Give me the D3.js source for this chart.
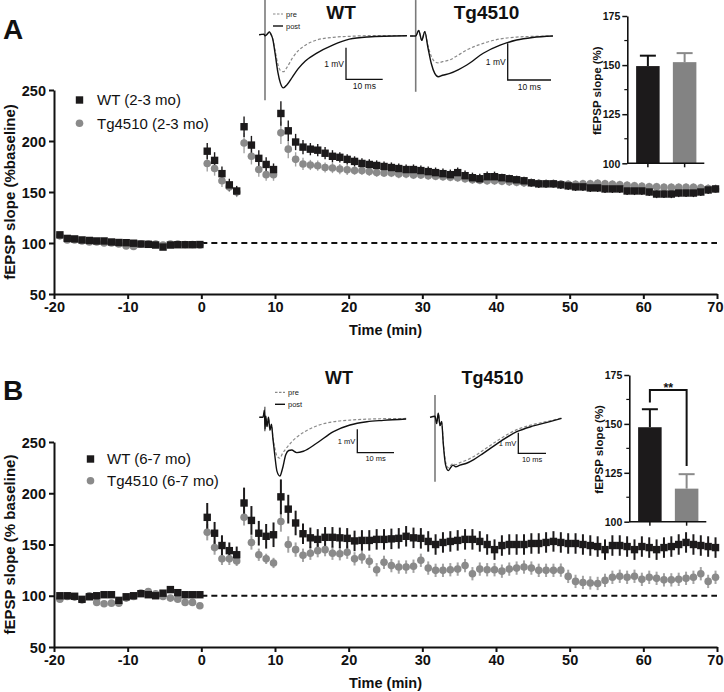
<!DOCTYPE html>
<html><head><meta charset="utf-8">
<script src="https://cdn.jsdelivr.net/npm/d3@7"></script>
<style>
body{margin:0;background:#fff}
svg{display:block}
text{font-family:"Liberation Sans",Arial,Helvetica,sans-serif}
</style>
</head><body>
<svg id="c" width="724" height="692"></svg>
<script>
// ---------------- DATA ----------------
const xTicks = [-20,-10,0,10,20,30,40,50,60,70];
const yTicks = [50,100,150,200,250];
const insetTicks = [100,125,150,175];
const insetMinor = [112.5,137.5,162.5];

const baseTimes = [-19.2,-18.2,-17.2,-16.2,-15.2,-14.2,-13.2,-12.2,-11.2,-10.2,-9.2,-8.2,-7.2,-6.2,-5.2,-4.2,-3.2,-2.2,-1.2,-0.2];
const postTimes = [0.8,1.8,2.8,3.8,4.8,5.8,6.8,7.8,8.8,9.8,10.8,11.8,12.8,13.8,14.8,15.8,16.8,17.8,18.8,19.8,
  20.8,21.8,22.8,23.8,24.8,25.8,26.8,27.8,28.8,29.8,30.8,31.8,32.8,33.8,34.8,35.8,36.8,37.8,38.8,39.8,
  40.8,41.8,42.8,43.8,44.8,45.8,46.8,47.8,48.8,49.8,50.8,51.8,52.8,53.8,54.8,55.8,56.8,57.8,58.8,59.8,
  60.8,61.8,62.8,63.8,64.8,65.8,66.8,67.8,68.8,69.8];

// Panel A (2-3 mo)
const wtA_base = [108,104.5,104,103,102.5,102,102,101,100.5,100.3,99.8,99,98.7,98,96,98,98.3,98.3,98.3,98.5];
const wtA_post = [190,181,168,157,151, 214,196,183,177,172,
  227,210,199,194,192,191,188,185,184,182,
  180,178,177,176,175,174,173,172,172,171,
  170,169,168,167,169,166,164,163,165,165,
  164,163,162,161,159,158,158,158,157,156,
  155,155,154,154,153,153,153,151,151,151,
  150,148,148,148,149,149,149,150,152,153];
const wtA_errBase = [2,1.5,1.5,1.5,1.5,1.5,1.5,1.5,1.5,1.5,1.5,1.5,1.5,1.5,2,1.5,1.5,1.5,1.5,1.5];
const wtA_errPost = [8,8,7,6,5, 10,9,8,7,6,
  12,10,8,7,6,6,6,6,5,5,
  5,5,5,5,5,5,5,5,5,5,
  5,5,5,5,5,5,5,5,5,5,
  4,4,4,4,4,4,4,4,4,4,
  4,4,4,4,4,4,4,4,4,4,
  4,4,4,4,4,4,4,4,4,4];
const tgA_base = [107,103,103,102,101,101,100,100,99,97,96.5,99,99,99,98,99,99,98.5,98.5,98];
const tgA_post = [178,173,161,155,150, 198,185,172,167,167,
  208,192,182,177.5,176.5,175.8,174,173.5,172.5,171.7,
  171,171,170,169,168.6,168.6,167.6,167.6,166.7,166.7,
  166,165.5,165,164.5,164,163,162,161.5,161,161,
  160.5,160,159.5,159,159,158.5,158,158,157.8,157.5,
  157.5,158,158,158.5,158,157.5,157,156.5,156,155.5,
  155,155,154.5,154.5,154.5,154.5,154.5,154,153.5,153];
const tgA_errBase = [2,1.5,1.5,1.5,1.5,1.5,1.5,1.5,1.5,1.5,1.5,1.5,1.5,1.5,1.5,1.5,1.5,1.5,1.5,1.5];
const tgA_errPost = [8,7,6,5,5, 10,8,7,6,6,
  11,9,7,6,5,5,5,5,5,5,
  4,4,4,4,4,4,4,4,4,4,
  4,4,4,4,4,4,4,4,4,4,
  4,4,4,4,4,4,4,4,4,4,
  4,4,4,4,4,4,4,4,4,4,
  4,4,4,4,4,4,4,4,4,4];

// Panel B (6-7 mo)
const wtB_base = [100,100,99.5,96.5,99,100,101,101,95.5,99,100,102,101,100,102.5,106,103,101,101,101];
const wtB_post = [176.5,161,149,144,140, 190.5,173.5,161,158,159.5,
  196.5,184.5,171,160.5,156.5,155,157,157,156.5,156,
  153.5,154,154,155,155,155.5,156,158,156.5,156,
  153,150,152,153,154,155,155,153,150,145,
  149,150,150,150,151,151,152,153,152,151,
  151,150,149,148,145,149,149,148,145,148,
  147,145,147,148,150,152,150,149,148,147];
const wtB_errBase = [2.5,2.5,2.5,2.5,2.5,2.5,2.5,2.5,2.5,2.5,2.5,2.5,2.5,2.5,2.5,3,2.5,2.5,2.5,2.5];
const wtB_errPost = [14,11,10,8,8, 15,14,12,12,12,
  17,14,12,10,10,10,10,10,10,10,
  10,10,10,10,10,10,10,10,10,10,
  10,10,10,10,10,10,10,10,10,10,
  10,10,10,10,10,10,10,10,10,10,
  10,10,10,10,10,10,10,10,10,10,
  10,10,10,10,10,10,10,10,10,10];
const tgB_base = [96.7,99.3,98.7,96,100,93.5,92.2,92.8,92.8,97.7,99.3,102.6,104.2,102,99.3,97.7,96.7,93.5,93.5,90.2];
const tgB_post = [162,147,136,136,134, 176.5,152,140,136,132,
  172.5,150,145,139.5,141.5,144,145,141.5,141,142.5,
  136,137.8,133.6,125.4,132.6,129.4,128,128,128.8,134.6,
  127,124.8,124.8,125.4,126,129.4,121.5,126,125.4,125.4,
  124,126,127,128,127,124.8,124.8,124.8,125,118.9,
  114,113,112.5,112,115,118,119,118,119,116,
  118,117,115.5,115.5,116,117,118,121.5,114,118];
const tgB_errBase = [2.5,2.5,2.5,2.5,2.5,2.5,2.5,2.5,2.5,2.5,2.5,2.5,2.5,2.5,2.5,2.5,2.5,2.5,2.5,2.5];
const tgB_errPost = [8,7,6,6,5, 8,7,6,5,5,
  10,8,7,6.5,6.5,6.5,6.5,6.5,6.5,6.5,
  6.5,6.5,6.5,6.5,6.5,6.5,6.5,6.5,6.5,6.5,
  6.5,6.5,6.5,6.5,6.5,6.5,6.5,6.5,6.5,6.5,
  6.5,6.5,6.5,6.5,6.5,6.5,6.5,6.5,6.5,6.5,
  6.5,6.5,6.5,6.5,6.5,6.5,6.5,6.5,6.5,6.5,
  6.5,6.5,6.5,6.5,6.5,6.5,6.5,6.5,6.5,6.5];

// Inset bar charts
const barGroups = ["WT","Tg4510"];
const barMeansA = [149.5,151.5];
const barErrA = [5.3,4.6];
const barMeansB = [148.3,116.9];
const barErrB = [9.2,7.4];
const sigB = {level:167.3, left:161, right:128.5, label:"**"};

// Example fEPSP traces (ms, mV)
const trA_WT_t    = [-1.6,-0.3,0,0.6,1.2,1.6,2.1,2.8,3.5,4.2,5.0,6.0,7.5,9.0,11,14,18.6,23,28,38.7];
const trA_WT_post = [0.03,0.05,0,0.05,0.12,0.05,-0.1,-0.6,-1.15,-1.5,-1.65,-1.55,-1.3,-1.05,-0.8,-0.56,-0.29,-0.11,-0.04,0];
const trA_WT_pre  = [0.03,0.05,0,0.05,0.12,0.05,-0.1,-0.5,-0.9,-1.1,-1.14,-1.0,-0.7,-0.48,-0.3,-0.14,-0.05,-0.02,0,0];
const trA_Tg_t    = [-1.3,-0.5,0,0.7,1.4,2.1,2.8,3.6,4.4,5.2,6.2,7.9,9.8,11.8,15.6,19.5,23.3,27,31.7];
const trA_Tg_post = [0,0,0,0.15,-0.12,0.12,-0.3,-0.75,-1.02,-1.11,-1.07,-1.02,-0.92,-0.79,-0.47,-0.25,-0.11,-0.04,0];
const trA_Tg_pre  = [0,0,0,0.15,-0.12,0.12,-0.25,-0.55,-0.7,-0.73,-0.7,-0.65,-0.52,-0.38,-0.2,-0.08,-0.03,-0.01,0];
const trB_WT_t    = [-1,0,0.4,0.55,0.75,1.1,1.5,1.9,2.3,2.7,3.2,3.8,4.6,5.3,6.2,7.0,7.8,9.2,11,14.6,19.2,23.7,28.3,32.8,39];
const trB_WT_post = [0,0,0.3,-0.5,0.05,-0.4,0.0,-0.55,-0.3,-0.9,-1.6,-2.3,-2.51,-2.2,-1.6,-1.42,-1.4,-1.51,-1.45,-1.11,-0.61,-0.33,-0.19,-0.13,-0.07];
const trB_WT_pre  = [0,0,0.3,-0.5,0.05,-0.4,0.0,-0.55,-0.3,-0.85,-1.3,-1.65,-1.75,-1.55,-1.35,-1.2,-1.05,-0.85,-0.65,-0.37,-0.19,-0.12,-0.08,-0.06,-0.05];
const trB_Tg_t    = [-1.8,0,0.6,1.2,1.8,2.4,3.0,3.8,4.8,5.6,6.5,7.5,9.0,11.4,14,17.4,23.5,29.5,35.5,41.5,45.7];
const trB_Tg_post = [0,0.05,-0.3,0.2,-0.4,-0.2,-1.3,-2.3,-2.59,-2.45,-2.32,-2.4,-2.32,-2.23,-2.05,-1.75,-1.18,-0.7,-0.42,-0.21,-0.05];
const trB_Tg_pre  = [0,0.05,-0.3,0.2,-0.4,-0.2,-1.2,-2.15,-2.45,-2.35,-2.25,-2.3,-2.2,-2.08,-1.9,-1.6,-1.05,-0.6,-0.35,-0.17,-0.03];
const stimA_WT = [1.13,-2.04];
const stimA_Tg = [0.98,-1.52];
const stimB_WT = [0.45,-0.6];
const stimB_Tg = [1.08,-3.13];

// ---------------- DRAW ----------------
const svg = d3.select("#c");
const BLACK = "#1c1a1b", GREY = "#8a8a8a", GREYERR = "#a3a3a3";
const times = baseTimes.concat(postTimes);

function styleAxis(g, fs) {
  g.select(".domain").attr("stroke","#111").attr("stroke-width",2);
  g.selectAll(".tick line").attr("stroke","#111").attr("stroke-width",2);
  g.selectAll(".tick text").attr("fill","#111").attr("font-weight","bold")
    .attr("font-size",fs).style("font-family",'"Liberation Sans",Arial,sans-serif');
}

function drawPanel(p) {
  const g = svg.append("g");
  const x = d3.scaleLinear().domain([-20,70]).range([54,717]);
  const y = d3.scaleLinear().domain([50,250]).range([p.yBot, p.yTop]);

  const ax = g.append("g").attr("transform",`translate(0,${p.yBot})`)
    .call(d3.axisBottom(x).tickValues(xTicks).tickSize(5).tickSizeOuter(0).tickPadding(3).tickFormat(d=>String(d)));
  styleAxis(ax, 14.5);
  ax.selectAll(".tick text").filter(d=>d===70).attr("text-anchor","end").attr("x",6);
  const ay = g.append("g").attr("transform",`translate(54,0)`)
    .call(d3.axisLeft(y).tickValues(yTicks).tickSize(5).tickSizeOuter(0).tickPadding(3).tickFormat(d=>String(d)));
  styleAxis(ay, 14.5);
  ay.selectAll(".tick text").attr("dy","0.36em");

  g.append("text").attr("x",385.5).attr("y",p.yBot+41).attr("text-anchor","middle")
    .attr("font-weight","bold").attr("font-size",14.5).attr("fill","#111").text("Time (min)");
  g.append("text").attr("transform",`translate(15,${(p.yBot+p.yTop)/2}) rotate(-90)`)
    .attr("text-anchor","middle").attr("font-weight","bold").attr("font-size",15).attr("fill","#111").text(p.ylabel);
  g.append("text").attr("x",3).attr("y",p.letterY).attr("font-weight","bold").attr("font-size",28)
    .attr("fill","#111").text(p.letter);

  g.append("line").attr("x1",x(0)).attr("x2",x(70)).attr("y1",y(100)).attr("y2",y(100))
    .attr("stroke","#111").attr("stroke-width",1.8).attr("stroke-dasharray","6,4");

  const tg = times.map((t,i)=>({t, v:p.tg[i], e:p.tgErr[i]}));
  const wt = times.map((t,i)=>({t, v:p.wt[i], e:p.wtErr[i]}));

  g.append("g").selectAll("line").data(tg).join("line")
    .attr("x1",d=>x(d.t)).attr("x2",d=>x(d.t)).attr("y1",d=>y(d.v-d.e)).attr("y2",d=>y(d.v+d.e))
    .attr("stroke",GREYERR).attr("stroke-width",p.ew);
  g.append("g").selectAll("line").data(wt).join("line")
    .attr("x1",d=>x(d.t)).attr("x2",d=>x(d.t)).attr("y1",d=>y(d.v-d.e)).attr("y2",d=>y(d.v+d.e))
    .attr("stroke",BLACK).attr("stroke-width",p.ew);
  g.append("g").selectAll("circle").data(tg).join("circle")
    .attr("cx",d=>x(d.t)).attr("cy",d=>y(d.v)).attr("r",3.8).attr("fill",GREY);
  const s = 7.4;
  g.append("g").selectAll("rect").data(wt).join("rect")
    .attr("x",d=>x(d.t)-s/2).attr("y",d=>y(d.v)-s/2).attr("width",s).attr("height",s).attr("fill",BLACK);

  const L = p.legend;
  g.append("rect").attr("x",L.x-s/2).attr("y",L.y1-s/2).attr("width",s).attr("height",s).attr("fill",BLACK);
  g.append("circle").attr("cx",L.x).attr("cy",L.y2).attr("r",3.8).attr("fill",GREY);
  g.append("text").attr("x",L.tx).attr("y",L.y1+5.3).attr("font-size",15).attr("fill","#111").text(L.t1);
  g.append("text").attr("x",L.tx).attr("y",L.y2+5.3).attr("font-size",15).attr("fill","#111").text(L.t2);
}

function drawInset(p) {
  const g = svg.append("g");
  const y = d3.scaleLinear().domain([100,175]).range([p.yBot,p.yTop]);
  const xb = d3.scaleBand().domain(barGroups).range([p.ax+2.2,p.ax+75.7]).paddingInner(0.36).paddingOuter(0.18);
  const colors = [BLACK,"#838383"];
  const errColors = ["#111","#8a8a8a"];
  g.selectAll("rect.bar").data(barGroups).join("rect")
    .attr("x",d=>xb(d)).attr("width",xb.bandwidth())
    .attr("y",(d,i)=>y(p.means[i])).attr("height",(d,i)=>y(100)-y(p.means[i]))
    .attr("fill",(d,i)=>colors[i]);
  barGroups.forEach((d,i)=>{
    const cx = xb(d)+xb.bandwidth()/2;
    g.append("line").attr("x1",cx).attr("x2",cx).attr("y1",y(p.means[i])).attr("y2",y(p.means[i]+p.errs[i]))
      .attr("stroke",errColors[i]).attr("stroke-width",2);
    g.append("line").attr("x1",cx-8).attr("x2",cx+8).attr("y1",y(p.means[i]+p.errs[i])).attr("y2",y(p.means[i]+p.errs[i]))
      .attr("stroke",errColors[i]).attr("stroke-width",2);
    g.append("line").attr("x1",cx).attr("x2",cx).attr("y1",y(100)).attr("y2",y(100)+4)
      .attr("stroke","#111").attr("stroke-width",1.5);
  });
  const ay = g.append("g").attr("transform",`translate(${p.ax},0)`)
    .call(d3.axisLeft(y).tickValues(insetTicks).tickSize(5).tickSizeOuter(0).tickPadding(2).tickFormat(d=>String(d)));
  styleAxis(ay, 10.5);
  ay.select(".domain").attr("stroke-width",1.6);
  ay.selectAll(".tick line").attr("stroke-width",1.5);
  ay.selectAll(".tick text").attr("dy","0.36em");
  g.selectAll("line.minor").data(insetMinor).join("line").attr("class","minor")
    .attr("x1",p.ax-3).attr("x2",p.ax).attr("y1",d=>y(d)).attr("y2",d=>y(d)).attr("stroke","#111").attr("stroke-width",1.2);
  g.append("line").attr("x1",p.ax).attr("x2",p.ax+77).attr("y1",y(100)).attr("y2",y(100))
    .attr("stroke","#111").attr("stroke-width",1.6);
  g.append("text").attr("transform",`translate(${p.ax-26},${(p.yBot+p.yTop)/2 + 1}) rotate(-90)`)
    .attr("text-anchor","middle").attr("font-weight","bold").attr("font-size",11.5).attr("fill","#111").text("fEPSP slope (%)");
  if (p.sig) {
    const c1 = xb(barGroups[0])+xb.bandwidth()/2, c2 = xb(barGroups[1])+xb.bandwidth()/2;
    g.append("path").attr("d",`M${c1},${y(p.sig.left)}V${y(p.sig.level)}H${c2}V${y(p.sig.right)}`)
      .attr("fill","none").attr("stroke","#111").attr("stroke-width",2);
    g.append("text").attr("x",(c1+c2)/2).attr("y",y(p.sig.level)+1.5).attr("text-anchor","middle")
      .attr("font-weight","bold").attr("font-size",12.5).attr("fill","#111").text(p.sig.label);
  }
}

function drawTrace(p) {
  const g = svg.append("g");
  const sx = d3.scaleLinear().domain([0,10]).range([p.x0,p.x0+p.ms10]);
  const sy = d3.scaleLinear().domain([0,-1]).range([p.y0,p.y0+p.mv1]);
  const line = d3.line().x(d=>sx(d[0])).y(d=>sy(d[1])).curve(d3.curveMonotoneX);
  if (p.stim) {
    g.append("line").attr("x1",sx(p.stimAt||0)).attr("x2",sx(p.stimAt||0)).attr("y1",sy(p.stim[0])).attr("y2",sy(p.stim[1]))
      .attr("stroke","#7a7a7a").attr("stroke-width",1.6);
  }
  g.append("path").attr("d",line(p.t.map((t,i)=>[t,p.pre[i]]))).attr("fill","none")
    .attr("stroke","#8a8a8a").attr("stroke-width",1.2).attr("stroke-dasharray","3,2");
  g.append("path").attr("d",line(p.t.map((t,i)=>[t,p.post[i]]))).attr("fill","none")
    .attr("stroke","#111").attr("stroke-width",1.4);
  const bx = p.bar[0], by = p.bar[1];
  const hLen = sx(10)-sx(0), vLen = sy(-1)-sy(0);
  g.append("path").attr("d",`M${bx},${by-vLen}V${by}H${bx+hLen}`).attr("fill","none")
    .attr("stroke","#111").attr("stroke-width",1.3);
  g.append("text").attr("x",bx-2).attr("y",by-vLen/2+3).attr("text-anchor","end")
    .attr("font-size",p.fs).attr("fill","#111").text("1 mV");
  g.append("text").attr("x",bx+hLen/2).attr("y",by+p.fs+1).attr("text-anchor","middle")
    .attr("font-size",p.fs).attr("fill","#111").text("10 ms");
  g.append("text").attr("x",p.title[0]).attr("y",p.title[1]).attr("text-anchor","middle")
    .attr("font-weight","bold").attr("font-size",p.tfs).attr("fill","#111").text(p.name);
  if (p.legend) {
    const [lx,ly] = p.legend;
    g.append("line").attr("x1",lx).attr("x2",lx+10).attr("y1",ly).attr("y2",ly)
      .attr("stroke","#8a8a8a").attr("stroke-width",1.2).attr("stroke-dasharray","2.5,1.5");
    g.append("line").attr("x1",lx).attr("x2",lx+10).attr("y1",ly+12).attr("y2",ly+12)
      .attr("stroke","#111").attr("stroke-width",1.4);
    g.append("text").attr("x",lx+13).attr("y",ly+2.5).attr("font-size",7.5).attr("fill","#222").text("pre");
    g.append("text").attr("x",lx+13).attr("y",ly+14.5).attr("font-size",7.5).attr("fill","#222").text("post");
  }
}

drawPanel({yBot:294, yTop:90, letter:"A", letterY:39, ylabel:"fEPSP slope (%baseline)",
  wt:wtA_base.concat(wtA_post), wtErr:wtA_errBase.concat(wtA_errPost),
  tg:tgA_base.concat(tgA_post), tgErr:tgA_errBase.concat(tgA_errPost), ew:1.4,
  legend:{x:79.5, y1:100, y2:123.3, tx:97, t1:"WT (2-3 mo)", t2:"Tg4510 (2-3 mo)"}});
drawPanel({yBot:647, yTop:442, letter:"B", letterY:400, ylabel:"fEPSP slope (% baseline)",
  wt:wtB_base.concat(wtB_post), wtErr:wtB_errBase.concat(wtB_errPost),
  tg:tgB_base.concat(tgB_post), tgErr:tgB_errBase.concat(tgB_errPost), ew:2,
  legend:{x:90.5, y1:459, y2:480.7, tx:107, t1:"WT (6-7 mo)", t2:"Tg4510 (6-7 mo)"}});

drawInset({ax:627.3, yBot:163.3, yTop:16, means:barMeansA, errs:barErrA});
drawInset({ax:629.3, yBot:521.7, yTop:375, means:barMeansB, errs:barErrB, sig:sigB});

drawTrace({x0:265, y0:35.7, ms10:36.7, mv1:31.6, t:trA_WT_t, post:trA_WT_post, pre:trA_WT_pre, stim:stimA_WT,
  bar:[346,79.3], fs:8.5, title:[341,18.5], tfs:19, name:"WT", legend:[273,14]});
drawTrace({x0:415.7, y0:36, ms10:43.3, mv1:36.7, t:trA_Tg_t, post:trA_Tg_post, pre:trA_Tg_pre, stim:stimA_Tg,
  bar:[507.7,80], fs:8.5, title:[486.5,18.5], tfs:19, name:"Tg4510"});
drawTrace({x0:263, y0:417.3, ms10:36.7, mv1:23.4, t:trB_WT_t, post:trB_WT_post, pre:trB_WT_pre, stim:stimB_WT, stimAt:0.5,
  bar:[357.3,452.7], fs:7.5, title:[339,383.5], tfs:18, name:"WT", legend:[275,392.3]});
drawTrace({x0:435, y0:417.3, ms10:27.7, mv1:20.6, t:trB_Tg_t, post:trB_Tg_post, pre:trB_Tg_pre, stim:stimB_Tg,
  bar:[518.3,453.3], fs:7.5, title:[492.5,383.5], tfs:18, name:"Tg4510"});
</script>
</body></html>
